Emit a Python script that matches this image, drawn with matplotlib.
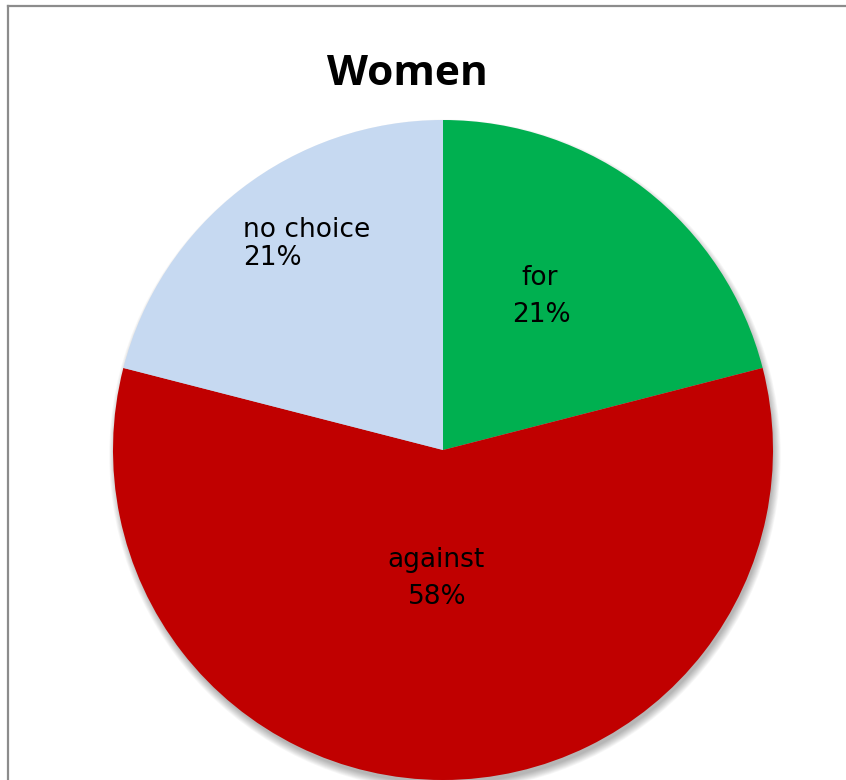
import matplotlib
matplotlib.use("Agg")
import matplotlib.pyplot as plt
from matplotlib.patches import Circle
from matplotlib.lines import Line2D

# Data
categories = ["for", "against", "no choice"]
shares = [21, 58, 21]
pct_labels = ["21%", "58%", "21%"]
colors = ["#00B050", "#C00000", "#C6D9F1"]
title = "Women"

W, H, DPI = 846, 780, 100
fig = plt.figure(figsize=(W / DPI, H / DPI), dpi=DPI)
fig.patch.set_facecolor("white")
ax = fig.add_axes([0, 0, 1, 1])

cx, cy, R = 443, 450, 330  # pixel geometry of the pie


def px(x, y):
    return (x - cx) / R, (cy - y) / R


# soft shadow (offset down-right)
for k in range(10):
    ax.add_patch(Circle((0.006, -0.016), 0.995 + k * 0.0025, color="black",
                        alpha=0.03, lw=0, zorder=1))

wedges, _ = ax.pie(shares, colors=colors, startangle=90, counterclock=False,
                   radius=1.0, center=(0, 0), frame=True,
                   wedgeprops=dict(linewidth=0))
for w in wedges:
    w.set_zorder(2)
ax.set_xlim(px(0, 0)[0], px(W, 0)[0])
ax.set_ylim(px(0, H)[1], px(0, 0)[1])
ax.set_aspect("equal")
ax.axis("off")

lab_font = dict(family="DejaVu Sans", fontsize=19, color="black", zorder=5)
# no choice (left aligned)
ax.text(*px(243, 237), categories[2], ha="left", va="baseline", **lab_font)
ax.text(*px(243, 265), pct_labels[2], ha="left", va="baseline", **lab_font)
# for
ax.text(*px(540, 285), categories[0], ha="center", va="baseline", **lab_font)
ax.text(*px(541, 322), pct_labels[0], ha="center", va="baseline", **lab_font)
# against
ax.text(*px(436, 567), categories[1], ha="center", va="baseline", **lab_font)
ax.text(*px(437, 604), pct_labels[1], ha="center", va="baseline", **lab_font)

ax.text(*px(407, 85), title, ha="center", va="baseline", fontsize=30.5,
        fontweight="bold", family="Open Sans", color="black", zorder=5)

# chart-area border (left and top visible)
fig.add_artist(Line2D([7.5 / W, 7.5 / W], [0, 1 - 5.5 / H], color="#8c8c8c", lw=1.6,
                      transform=fig.transFigure))
fig.add_artist(Line2D([7.5 / W, 1], [1 - 5.5 / H, 1 - 5.5 / H], color="#8c8c8c", lw=1.6,
                      transform=fig.transFigure))

fig.savefig("out.png", dpi=DPI, facecolor="white")
